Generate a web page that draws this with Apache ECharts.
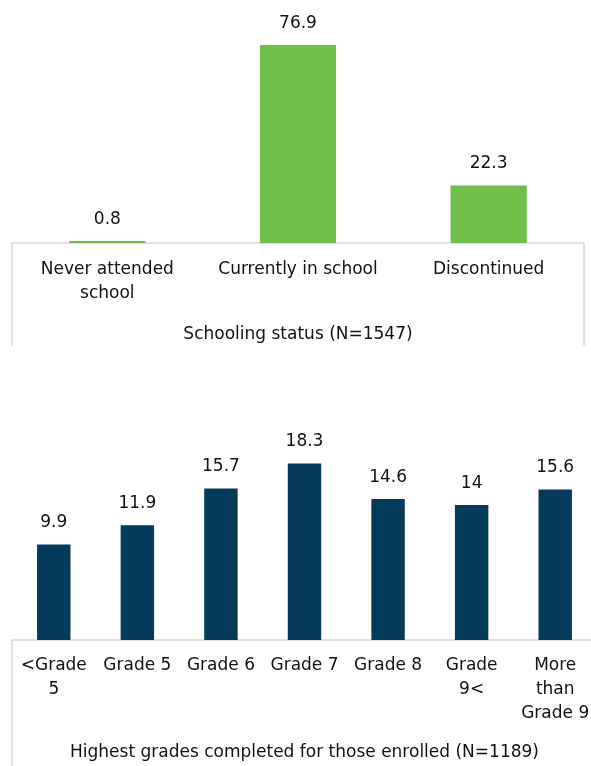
<!DOCTYPE html>
<html>
<head>
<meta charset="utf-8">
<style>
  html, body { margin: 0; padding: 0; background: #fff; }
  #chart { width: 591px; height: 766px; }
</style>
<script src="https://cdn.jsdelivr.net/npm/echarts@6/dist/echarts.min.js"></script>
</head>
<body>
<div id="chart"></div>
<script>
// schooling status (top panel)
var statusCats = ['Never attended\nschool', 'Currently in school', 'Discontinued'];
var statusVals = [0.8, 76.9, 22.3];

// highest grade completed (bottom panel)
var gradeCats = ['<Grade\n5', 'Grade 5', 'Grade 6', 'Grade 7', 'Grade 8', 'Grade\n9<', 'More\nthan\nGrade 9'];
var gradeVals = [9.9, 11.9, 15.7, 18.3, 14.6, 14, 15.6];

var FONT = 'DejaVu Sans';
var LINE = '#d9d9d9';

var chart = echarts.init(document.getElementById('chart'));

// outer frame lines of the category block, drawn as end ticks of a 0..1 axis
function frameAxis(gridIndex, len){
    return {
        type: 'value', gridIndex: gridIndex, position: 'bottom',
        min: 0, max: 1, interval: 1,
        axisLine: { show: false },
        axisLabel: { show: false },
        splitLine: { show: false },
        axisTick: { show: true, length: len, lineStyle: { color: LINE, width: 1.5 } }
    };
}

function catAxis(gridIndex, cats, name, nameGap, margin){
    return {
        type: 'category', gridIndex: gridIndex, position: 'bottom', data: cats,
        name: name, nameLocation: 'middle', nameGap: nameGap,
        nameTextStyle: { fontFamily: FONT, fontSize: 17, color: '#111' },
        axisLine: { lineStyle: { color: LINE, width: 1.5 } },
        axisTick: { show: false },
        axisLabel: { interval: 0, margin: margin, fontFamily: FONT, fontSize: 17, lineHeight: 24, color: '#111' }
    };
}

var option = {
    animation: false,
    grid: [
        { left: 12, width: 572, top: 37, bottom: 523, outerBoundsMode: 'none' },
        // panel is cropped on the right in the source, so it runs past the edge
        { left: 12, width: 585, top: 447, bottom: 126, outerBoundsMode: 'none' }
    ],
    xAxis: [
        catAxis(0, statusCats, 'Schooling status (N=1547)', 83, 15),
        catAxis(1, gradeCats, 'Highest grades completed for those enrolled (N=1189)', 104, 14),
        frameAxis(0, 103),
        frameAxis(1, 130)
    ],
    yAxis: [
        { type: 'value', gridIndex: 0, min: 0, max: 80, show: false },
        { type: 'value', gridIndex: 1, min: 0, max: 20, show: false }
    ],
    series: [
        {
            type: 'bar', xAxisIndex: 0, yAxisIndex: 0,
            data: statusVals, barWidth: '40%',
            itemStyle: { color: '#70bf4b' },
            label: { show: true, position: 'top', distance: 13, fontFamily: FONT, fontSize: 17, color: '#111' }
        },
        {
            type: 'bar', xAxisIndex: 1, yAxisIndex: 1,
            data: gradeVals, barWidth: '40%',
            itemStyle: { color: '#043a5a' },
            label: { show: true, position: 'top', distance: 13, fontFamily: FONT, fontSize: 17, color: '#111' }
        }
    ]
};

chart.setOption(option);
</script>
</body>
</html>
